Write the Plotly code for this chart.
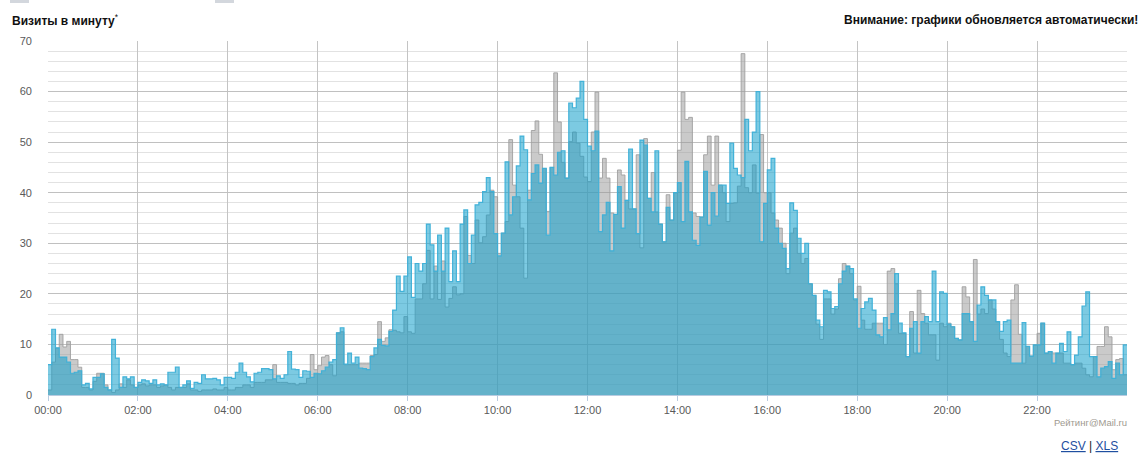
import plotly.graph_objects as go

# 5-minute buckets, 12 per hour, 24 hours
visits_today = [
    6, 13, 9.3, 7.5, 7.5, 6.5, 4.3, 4.5, 4.8, 2, 2.3, 1.2,
    3.5, 3.5, 4.2, 1.5, 1, 11, 7.3, 1.5, 3.6, 3.2, 3.6, 1.5,
    2.5, 3, 2.8, 2.3, 3, 2, 2.2, 2, 4.5, 4.5, 5.5, 1.5,
    2, 2.8, 1.3, 2.5, 2.3, 4, 3.2, 3.2, 3.3, 3, 2, 3.5,
    3.5, 3.3, 4.5, 6.3, 4.5, 3.6, 2.6, 4.3, 4.5, 5.2, 5.2, 5,
    3.2, 3.8, 3.3, 4, 8.6, 5.1, 5, 3.5, 4.8, 4.7, 3.5, 4.3,
    4.2, 4.8, 5.5, 6.5, 7, 12.3, 13.3, 6.1, 8.3, 6.3, 7.5, 5.3,
    5.2, 5, 7.6, 9.3, 11, 9.8, 9.7, 12.6, 16.8, 23.5, 20.5, 23.5,
    27.3, 19.3, 26, 24.5, 26, 33.8, 29.7, 24.5, 31.6, 24.5, 33, 22.4,
    28.5, 22.4, 33.8, 36.6, 26, 31.6, 37.6, 38.1, 40.2, 43, 40.2, 31.9,
    27.5, 32, 46.1, 35.6, 39.2, 45.3, 51.2, 48.5, 38.6, 43.8, 45.5, 41.9,
    44.8, 31.6, 45, 43.5, 48, 48.3, 42.9, 57.7, 56.8, 58.7, 62, 54.5,
    49.2, 48.3, 52.2, 32.3, 35.6, 38.1, 28.5, 35.7, 41.2, 33, 38.5, 48.6,
    36.8, 31.9, 50.4, 49.4, 38.9, 36.2, 48.3, 33.8, 30.3, 37.1, 34.6, 40,
    42, 34.3, 46.2, 36.2, 30.6, 29.6, 35.2, 44.2, 33.6, 40, 35.4, 41.5,
    41.5, 37.9, 49.8, 44.8, 43.5, 43, 54.5, 48.3, 52, 60, 30.3, 37.9,
    44.5, 46.8, 33, 30, 29, 25, 38, 36.5, 31, 28, 30, 22,
    19.7, 14.8, 13.5, 20.7, 20.4, 17.1, 17.5, 22, 24.5, 25.5, 25, 19,
    13.2, 17.1, 18.4, 19.1, 16.8, 11.9, 11.5, 15.3, 12.9, 16.1, 24, 14.2,
    12.3, 7.6, 13.2, 14.5, 8.3, 14.5, 15.5, 14.5, 24.5, 14.5, 20.4, 20.1,
    14, 13.5, 11.2, 10.9, 16.1, 16.1, 14.5, 10.6, 17.8, 21.4, 19.7, 18.8,
    18.8, 14.5, 12.6, 14.5, 14.8, 6.3, 6.3, 6.3, 14.3, 9.6, 7.7, 9.9,
    9.9, 14.2, 8.3, 8.6, 6.3, 8.3, 10.2, 8.6, 12.5, 6.0, 7.9, 11.5,
    17.6, 20.4, 7.6, 7.6, 3.6, 5.3, 5.6, 6.6, 3.3, 6.3, 4.0, 9.9,
]

visits_before = [
    1, 6.5, 9.3, 12, 9.5, 10.6, 7, 7, 5.5, 1.5, 1.5, 1,
    2.7, 4.3, 4.3, 2, 1, 0.5, 1, 2.2, 1.5, 3, 2, 1.5,
    2, 2.2, 1.8, 2, 2, 1.5, 1.8, 2, 1.5, 1, 1.5, 1.5,
    1.5, 2.2, 1, 1, 0.7, 1, 1, 1, 1.2, 1, 1, 1.5,
    1, 1, 1.5, 1.5, 2, 2, 1.5, 2.5, 2.5, 2.5, 3, 3,
    6, 2.5, 2.5, 2.5, 2.3, 2.3, 2, 2.3, 2.3, 3.3, 8, 5,
    5.8, 7.5, 7.8, 6, 3.8, 12.3, 12.5, 6, 6, 6, 6, 6.3,
    6.3, 6.3, 7.8, 8, 14.5, 10.6, 11.3, 12.9, 12.8, 12.5, 12.3, 15.5,
    12.5, 12.2, 19, 19, 22, 28.6, 19, 25.5, 18.9, 26.5, 17.4, 19.1,
    21.4, 19.8, 20, 35.3, 27.6, 26, 34.6, 30.1, 31.3, 35.6, 40.5, 39.2,
    28, 32, 34.3, 50.5, 41.5, 39.2, 33, 23.1, 40.5, 52.3, 54.2, 47.6,
    44.8, 36.3, 45, 63.7, 54, 46, 42.9, 50.1, 52, 49.8, 47.2, 43.1,
    42.2, 52, 59.9, 42.9, 46.8, 42.9, 36, 35.7, 44.5, 43.5, 38.5, 36.8,
    36.8, 47.5, 29.1, 50.7, 38.9, 44, 36.2, 33.8, 30.3, 39.6, 34.6, 40,
    48.4, 59.9, 54.5, 54.9, 36, 35.3, 35.2, 47.5, 51.2, 41.5, 51.2, 41.5,
    40, 34.3, 37.9, 38, 41.3, 67.5, 41, 40, 45.5, 39.9, 51.5, 40,
    40, 36, 34.6, 33, 30, 24, 32, 33, 28, 26, 27, 22,
    19.7, 14, 11, 19, 19, 16, 17, 23, 26, 25.5, 24, 18.8,
    21.5, 14.8, 13, 13, 14.2, 14.2, 14.2, 10, 24.5, 25, 22, 12.2,
    12.2, 7.6, 16.5, 8.3, 20.7, 16.1, 14.2, 11.9, 11.9, 6.9, 14.2, 13.5,
    14.2, 13.5, 11.2, 10.9, 21.4, 19.4, 14.5, 26.8, 16, 17, 16.1, 18.8,
    17, 14.5, 11, 8.3, 7.6, 18.8, 21.8, 12, 6.3, 9.6, 7.7, 9.9,
    12.2, 14.2, 8.3, 8.6, 8.3, 8.3, 8.3, 6.3, 6.3, 6.0, 6.3, 6.3,
    5.3, 4.0, 3.6, 7.6, 9.6, 9.6, 13.5, 11.5, 5, 7, 7.2, 4.0,
]

tick_hours = [0, 2, 4, 6, 8, 10, 12, 14, 16, 18, 20, 22]
tick_labels = ["00:00", "02:00", "04:00", "06:00", "08:00", "10:00",
               "12:00", "14:00", "16:00", "18:00", "20:00", "22:00"]

STEP = 5 / 60.0


def step_xy(values):
    xs = [i * STEP for i in range(len(values))] + [len(values) * STEP]
    ys = list(values) + [values[-1]]
    return xs, ys


FONT = "Arial, 'Liberation Sans', sans-serif"

fig = go.Figure()
xg, yg = step_xy(visits_before)
fig.add_trace(go.Scatter(
    x=xg, y=yg, mode="lines", line=dict(shape="hv", color="rgba(160,160,160,0.9)", width=1),
    fill="tozeroy", fillcolor="rgba(150,150,150,0.5)", hoverinfo="skip"))
xb, yb = step_xy(visits_today)
fig.add_trace(go.Scatter(
    x=xb, y=yb, mode="lines", line=dict(shape="hv", color="rgba(60,175,215,0.95)", width=1.2),
    fill="tozeroy", fillcolor="rgba(16,158,202,0.55)", hoverinfo="skip"))

fig.update_layout(
    width=1147, height=459,
    margin=dict(l=48, r=20, t=41, b=64, autoexpand=False),
    paper_bgcolor="white", plot_bgcolor="white",
    showlegend=False,
    hovermode=False,
    font=dict(family=FONT, size=11, color="#606060"),
    xaxis=dict(
        range=[0, 24], tickmode="array", tickvals=tick_hours, ticktext=tick_labels,
        showgrid=True, gridcolor="#c4c4c4", gridwidth=1,
        ticks="outside", ticklen=5, tickcolor="#b8cbe0",
        showline=True, linecolor="#b8cbe0", linewidth=1,
        zeroline=False, tickfont=dict(size=11, color="#5a5a5a"),
        automargin=False, fixedrange=True,
    ),
    yaxis=dict(
        range=[0, 70], dtick=10, tick0=0,
        showgrid=True, gridcolor="#c0c0c0", gridwidth=1,
        minor=dict(dtick=2, showgrid=True, gridcolor="#e2e2e2", gridwidth=1),
        zeroline=False, showline=False, ticks="",
        ticklabelstandoff=15,
        tickfont=dict(size=11, color="#5a5a5a"),
        automargin=False, fixedrange=True,
    ),
)

# plot area: x 48..1127, y 41..395
def px(xp):
    return (xp - 48) / 1079.0


def py(yp):
    return (395 - yp) / 354.0


fig.add_annotation(x=px(10), y=py(20), xref="paper", yref="paper",
                   xanchor="left", yanchor="middle", showarrow=False,
                   text="<b>Визиты в минуту</b><sup>*</sup>",
                   font=dict(family=FONT, size=12, color="#111"))
fig.add_annotation(x=px(1140), y=py(20), xref="paper", yref="paper",
                   xanchor="right", yanchor="middle", showarrow=False,
                   text="<b>Внимание: графики обновляется автоматически!</b>",
                   font=dict(family=FONT, size=12, color="#111"))
fig.add_annotation(x=px(1129), y=py(422), xref="paper", yref="paper",
                   xanchor="right", yanchor="middle", showarrow=False,
                   text="Рейтинг@Mail.ru",
                   font=dict(family=FONT, size=9.5, color="#a09a90"))
fig.add_annotation(x=px(1120), y=py(446), xref="paper", yref="paper",
                   xanchor="right", yanchor="middle", showarrow=False,
                   text="<span style='color:#1f4fa0'><u>CSV</u></span> | <span style='color:#1f4fa0'><u>XLS</u></span>",
                   font=dict(family=FONT, size=12, color="#222"))

for x0, x1 in [(10, 29), (215, 234)]:
    fig.add_shape(type="rect", xref="paper", yref="paper",
                  x0=px(x0), x1=px(x1), y0=py(3), y1=py(0),
                  fillcolor="#d3d7dd", line=dict(width=0))

fig.write_html("out.html", config={"displayModeBar": False, "staticPlot": True},
               post_script="document.body.style.margin='0';document.body.style.padding='0';")
